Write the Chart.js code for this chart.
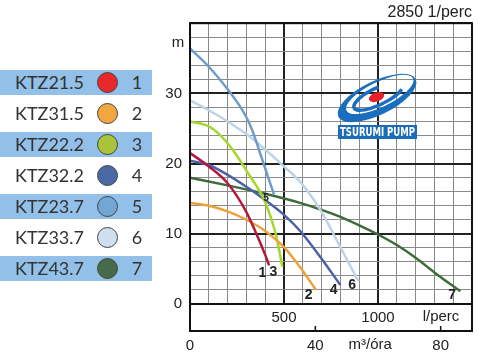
<!DOCTYPE html>
<html>
<head>
<meta charset="utf-8">
<script src="https://cdn.jsdelivr.net/npm/chart.js@4.4.0/dist/chart.umd.min.js"></script>
<style>
  body { margin: 0; background: #fff; }
  #wrap { position: relative; width: 479px; height: 354px; }
  #c { position: absolute; left: 0; top: 0; }
  .row { position: absolute; left: 0; width: 152px; height: 25px; line-height: 25px;
         font-family: Lato, sans-serif; font-size: 18px; color: #333; }
  .row.band { background: #92c0e8; }
  .row .name { position: absolute; left: 15px; }
  .row .dot { position: absolute; left: 97px; top: 2px; width: 19px; height: 19px;
              border: 1px solid #444; border-radius: 50%; }
  .row .num { position: absolute; left: 129px; width: 16px; text-align: center; }
</style>
</head>
<body>
<div id="wrap">
  <canvas id="c" width="479" height="354"></canvas>
  <div id="legend"></div>
</div>
<script>
// pump models (legend)
const models = ["KTZ21.5", "KTZ31.5", "KTZ22.2", "KTZ32.2", "KTZ23.7", "KTZ33.7", "KTZ43.7"];
const curveNumbers = ["1", "2", "3", "4", "5", "6", "7"];
const legendColors = ["#e8282a", "#f2a640", "#a9c43a", "#4a68a4", "#74a6d4", "#cfdff0", "#456b48"];
const curveColors = ["#b3193f", "#eca23a", "#a5d62c", "#4a62a8", "#6e9ccb", "#bcd3e8", "#3e6b3a"];

// Q (l/perc) and H (m) for each curve
const flow1 = [0, 100, 200, 300, 353, 400, 421];
const head1 = [21.5, 19.6, 17.2, 13.1, 10.0, 7.0, 5.5];
const flow2 = [0, 100, 200, 300, 400, 500, 584, 670];
const head2 = [14.4, 14.0, 13.2, 12.0, 10.4, 8.1, 5.3, 2.0];
const flow3 = [0, 100, 155, 226, 300, 400, 456, 491];
const head3 = [26.0, 25.3, 24.2, 22.0, 19.0, 14.5, 10.0, 5.3];
const flow4 = [0, 100, 200, 300, 400, 500, 586, 693, 800];
const head4 = [20.4, 19.8, 18.4, 16.7, 14.8, 12.7, 10.4, 6.7, 2.7];
const flow5 = [0, 100, 200, 260, 300, 332, 359, 400, 447];
const head5 = [36.4, 33.8, 30.6, 28.4, 26.6, 24.7, 22.6, 19.3, 15.6];
const flow6 = [0, 100, 200, 300, 400, 491, 586, 693, 800, 897];
const head6 = [29.0, 27.6, 26.0, 24.2, 22.0, 19.8, 17.4, 13.4, 8.1, 3.2];
const flow7 = [0, 200, 400, 586, 700, 800, 900, 1000, 1100, 1200, 1300, 1438];
const head7 = [18.0, 16.9, 15.7, 14.4, 13.4, 12.4, 11.2, 9.9, 8.4, 6.6, 4.5, 1.8];

// where the curve numbers sit (l/perc, m)
const labelFlow = [385, 631, 444, 764, 405, 862, 1395];
const labelHead = [4.4, 1.3, 4.6, 2.0, 15.1, 2.7, 1.3];

// axis ticks
const lpmLabels = [500, 1000];
const headLabels = [0, 10, 20, 30];
const m3Ticks = [0, 40, 80];

const flows = [flow1, flow2, flow3, flow4, flow5, flow6, flow7];
const heads = [head1, head2, head3, head4, head5, head6, head7];

// legend
const legend = document.getElementById("legend");
models.forEach((m, i) => {
  const row = document.createElement("div");
  row.className = "row" + (i % 2 === 0 ? " band" : "");
  row.style.top = (70 + i * 31) + "px";
  row.innerHTML = `<span class="name">${m}</span>
    <span class="dot" style="background:${legendColors[i]}"></span>
    <span class="num">${curveNumbers[i]}</span>`;
  legend.appendChild(row);
});

const datasets = flows.map((f, i) => ({
  label: models[i],
  data: f.map((x, j) => ({ x: x, y: heads[i][j] })),
  borderColor: curveColors[i],
  borderWidth: 2.5,
  pointRadius: 0,
  showLine: true,
  fill: false,
  cubicInterpolationMode: "monotone",
}));

const FONT = "'Liberation Sans', Arial, sans-serif";

function drawLogo(c) {
  c.save();
  c.translate(377, 98);
  c.rotate(-0.45);
  c.fillStyle = "#1a6ec0";
  c.beginPath();
  c.ellipse(0, 0, 43, 17, 0, 0, Math.PI * 2);
  c.ellipse(4, -2, 37, 12.5, 0, 0, Math.PI * 2);
  c.fill("evenodd");
  c.strokeStyle = "#1a6ec0";
  c.lineWidth = 3.5;
  c.beginPath();
  c.ellipse(2, -1, 27, 8.5, 0, Math.PI * 0.15, Math.PI * 1.55);
  c.stroke();
  c.fillStyle = "#e8202a";
  c.beginPath();
  c.ellipse(0, -1, 8, 4.5, 0.1, 0, Math.PI * 2);
  c.fill();
  c.restore();
  c.fillStyle = "#1c6cb8";
  c.fillRect(338, 125, 79, 14);
  c.fillStyle = "#fff";
  c.font = "bold 12px 'DejaVu Sans Condensed', sans-serif";
  c.textAlign = "center";
  c.textBaseline = "middle";
  c.fillText("TSURUMI PUMP", 377.5, 132.5, 75);
}

const extras = {
  id: "extras",
  afterDraw(chart) {
    const c = chart.ctx;
    const x = chart.scales.x, y = chart.scales.y, x2 = chart.scales.x2;
    const a = chart.chartArea;
    c.save();
    drawLogo(c);
    // frame and zero line
    c.strokeStyle = "#111";
    c.lineWidth = 2;
    c.strokeRect(a.left, a.top, a.right - a.left, x2.top - a.top);
    c.beginPath();
    c.moveTo(a.left, y.getPixelForValue(0));
    c.lineTo(a.right, y.getPixelForValue(0));
    c.stroke();
    c.lineWidth = 1.5;
    m3Ticks.forEach(v => {
      const px = x2.getPixelForValue(v);
      c.beginPath();
      c.moveTo(px, x2.top);
      c.lineTo(px, x2.top - 5);
      c.stroke();
    });
    // axis texts
    c.fillStyle = "#222";
    c.font = "15px " + FONT;
    c.textAlign = "center";
    c.textBaseline = "middle";
    c.fillText("l/perc", x.getPixelForValue(1335), 317);
    c.fillText("m³/óra", x2.getPixelForValue(57.5), 345);
    c.textBaseline = "alphabetic";
    c.fillText("m", 178, y.getPixelForValue(36.6));
    // curve numbers
    c.textBaseline = "middle";
    labelFlow.forEach((f, i) => {
      c.font = (i === 4 ? "bold 10px " : "bold 14px ") + FONT;
      c.fillText(curveNumbers[i], x.getPixelForValue(f), y.getPixelForValue(labelHead[i]));
    });
    c.restore();
  },
};

new Chart(document.getElementById("c"), {
  type: "scatter",
  data: { datasets: datasets },
  options: {
    responsive: false,
    animation: false,
    layout: { padding: { left: 160, right: 7, top: 0, bottom: 0 } },
    plugins: {
      legend: { display: false },
      tooltip: { enabled: false },
      title: {
        display: true,
        text: "2850 1/perc",
        align: "end",
        color: "#222",
        font: { family: FONT, size: 16, weight: "normal" },
        padding: { top: 3, bottom: 1 },
      },
    },
    scales: {
      x: {
        type: "linear",
        position: "bottom",
        weight: 0,
        min: 0,
        max: 1500,
        afterFit: s => { s.height = 27; },
        border: { display: false },
        grid: {
          drawTicks: false,
          color: ctx => (ctx.tick.value % 500 === 0 ? "#222" : "#8a8a8a"),
          lineWidth: ctx => (ctx.tick.value % 500 === 0 ? 2 : 1),
        },
        ticks: {
          stepSize: 100,
          autoSkip: false,
          maxRotation: 0,
          padding: 5,
          color: "#222",
          font: { family: FONT, size: 15 },
          callback: v => (lpmLabels.includes(v) ? String(v) : ""),
        },
      },
      x2: {
        type: "linear",
        position: "bottom",
        weight: 1,
        min: 0,
        max: 90,
        afterBuildTicks: s => { s.ticks = m3Ticks.map(v => ({ value: v })); },
        afterFit: s => { s.height = 23; },
        border: { display: false },
        grid: { display: false, drawTicks: false },
        ticks: {
          autoSkip: false,
          maxRotation: 0,
          padding: 6,
          color: "#222",
          font: { family: FONT, size: 15 },
        },
      },
      y: {
        min: 0,
        max: 40,
        afterFit: s => { s.width = 30; },
        border: { display: false },
        grid: {
          drawTicks: false,
          color: ctx => (ctx.tick.value % 10 === 0 ? "#222" : "#8a8a8a"),
          lineWidth: ctx => (ctx.tick.value % 10 === 0 ? 2 : 1),
        },
        ticks: {
          stepSize: 2,
          autoSkip: false,
          padding: 8,
          color: "#222",
          font: { family: FONT, size: 15 },
          callback: v => (headLabels.includes(v) ? String(v) : ""),
        },
      },
    },
  },
  plugins: [extras],
});
</script>
</body>
</html>
